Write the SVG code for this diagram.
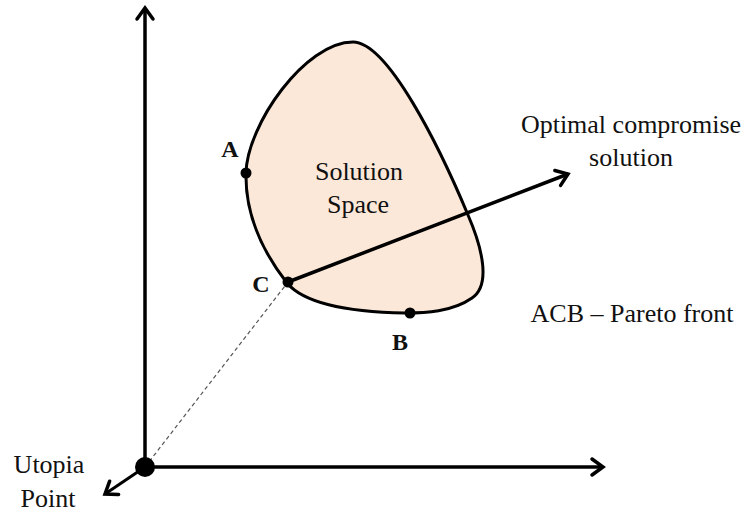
<svg xmlns="http://www.w3.org/2000/svg" width="748" height="514" viewBox="0 0 748 514">
<style>
.ax{stroke:#000;stroke-width:3.5;fill:none}
text{font-family:'Liberation Serif','Times New Roman',Times,serif;fill:#111}
.t{font-size:26px}
.b{font-size:24px;font-weight:bold}
</style>
<defs>
<marker id="arr" markerUnits="userSpaceOnUse" markerWidth="24" markerHeight="24" refX="0" refY="0" viewBox="-14 -12 16 24" orient="auto">
<path d="M-11,-8 L0,0 L-11,8" fill="none" stroke="#000" stroke-width="3.5" stroke-linejoin="miter" stroke-linecap="round"/>
</marker>
</defs>
<g id="region">
<path d="M353,42 C388,42 440,148 468,215 C484,252 490,286 472,298 C452,312 425,313 405,313 C345,312 303,302 287,283 C266,256 245,218 246,173 C247,125 305,42 353,42 Z" fill="#FCE8D9" stroke="#000" stroke-width="3"/>
<text class="t" x="359" y="180" text-anchor="middle" font-family="Liberation Serif">Solution</text>
<text class="t" x="358" y="213" text-anchor="middle" font-family="Liberation Serif">Space</text>
</g>
<g id="connectors">
<line x1="145" y1="467" x2="145" y2="8" class="ax" marker-end="url(#arr)"/>
<line x1="145" y1="467" x2="603" y2="467" class="ax" marker-end="url(#arr)"/>
<line x1="145" y1="467" x2="105" y2="494" stroke="#000" stroke-width="3" marker-end="url(#arr)"/>
<line x1="145" y1="467" x2="288" y2="282" stroke="#555" stroke-width="1.2" stroke-dasharray="4,3"/>
<line x1="288" y1="282" x2="568" y2="174" class="ax" stroke-width="3" marker-end="url(#arr)"/>
</g>
<g id="utopia">
<circle cx="145" cy="467" r="10" fill="#000"/>
<text class="t" x="49" y="473" text-anchor="middle" font-family="Liberation Serif">Utopia</text>
<text class="t" x="48" y="507" text-anchor="middle" font-family="Liberation Serif">Point</text>
</g>
<g id="pointA">
<circle cx="246" cy="173" r="5.5" fill="#000"/>
<text class="b" x="230" y="157" text-anchor="middle" font-family="Liberation Serif">A</text>
</g>
<g id="pointC">
<circle cx="288" cy="282" r="5.5" fill="#000"/>
<text class="b" x="261" y="292" text-anchor="middle" font-family="Liberation Serif">C</text>
</g>
<g id="pointB">
<circle cx="410" cy="313" r="5.5" fill="#000"/>
<text class="b" x="400" y="350" text-anchor="middle" font-family="Liberation Serif">B</text>
</g>
<g id="labels">
<text class="t" x="631" y="133" text-anchor="middle" font-family="Liberation Serif">Optimal compromise</text>
<text class="t" x="631" y="166" text-anchor="middle" font-family="Liberation Serif">solution</text>
<text class="t" x="632" y="322" text-anchor="middle" font-family="Liberation Serif">ACB – Pareto front</text>
</g>
</svg>
